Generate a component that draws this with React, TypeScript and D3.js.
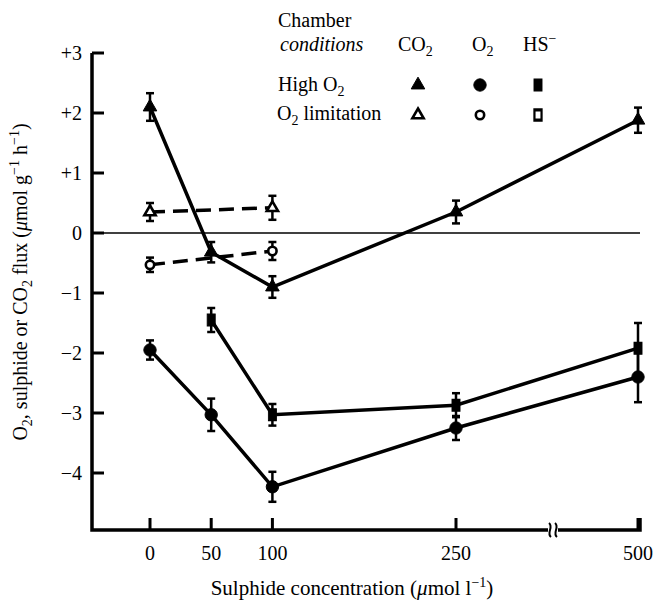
import React from 'react';
import * as d3 from 'd3';

const W = 655;
const H = 600;
const FONT = '"Liberation Serif", "Times New Roman", serif';

// x values (sulphide, umol/l)
const sulphide = [0, 50, 100, 250, 500];
const hsSulphide = [50, 100, 250, 500];
const limitSulphide = [0, 100];

// high O2 chamber
const co2HighVals = [2.1, -0.32, -0.9, 0.35, 1.88];
const co2HighErr = [0.23, 0.17, 0.18, 0.19, 0.21];
const o2HighVals = [-1.95, -3.03, -4.23, -3.25, -2.4];
const o2HighErr = [0.16, 0.27, 0.25, 0.2, 0.42];
const hsHighVals = [-1.45, -3.03, -2.87, -1.92];
const hsHighErr = [0.2, 0.18, 0.2, 0.42];

// O2 limitation chamber
const co2LimitVals = [0.35, 0.42];
const co2LimitErr = [0.15, 0.2];
const o2LimitVals = [-0.53, -0.3];
const o2LimitErr = [0.12, 0.15];

const xTicks = [0, 50, 100, 250, 500];
const yTicks = [3, 2, 1, 0, -1, -2, -3, -4];
const yTickLabels = ['+3', '+2', '+1', '0', '\u22121', '\u22122', '\u22123', '\u22124'];

const x = d3.scaleLinear().domain([0, 250, 500]).range([150, 456, 638]);
const y = d3.scaleLinear().domain([-4.95, 3]).range([530, 53]);

const axisX = 92;
const axisRight = 640;
const xBreak = 553;

const series = [
  { xs: sulphide, vals: co2HighVals, err: co2HighErr, shape: 'triangle', open: false, dashed: false },
  { xs: sulphide, vals: o2HighVals, err: o2HighErr, shape: 'circle', open: false, dashed: false },
  { xs: hsSulphide, vals: hsHighVals, err: hsHighErr, shape: 'square', open: false, dashed: false },
  { xs: limitSulphide, vals: co2LimitVals, err: co2LimitErr, shape: 'triangle', open: true, dashed: true },
  { xs: limitSulphide, vals: o2LimitVals, err: o2LimitErr, shape: 'circle', open: true, dashed: true },
];

const line = d3.line<[number, number]>().x(d => x(d[0])).y(d => y(d[1]));

function Marker({ cx, cy, shape, open }: { cx: number; cy: number; shape: string; open: boolean }) {
  if (shape === 'square') {
    const p = d3.symbol().type(d3.symbolSquare).size(open ? 70 : 90)();
    return (
      <path d={p || ''} transform={`translate(${cx},${cy}) scale(0.85,1.25)`}
        fill={open ? '#fff' : '#000'} stroke="#000" strokeWidth={open ? 2.6 : 1} />
    );
  }
  const type = shape === 'triangle' ? d3.symbolTriangle : d3.symbolCircle;
  const size = shape === 'triangle' ? (open ? 55 : 80) : (open ? 55 : 120);
  const p = d3.symbol().type(type).size(size)();
  return (
    <path d={p || ''} transform={`translate(${cx},${cy})`}
      fill={open ? '#fff' : '#000'} stroke="#000" strokeWidth={open ? 2.6 : 1} />
  );
}

export default function App() {
  const yBottom = y(-4.95);
  const yTop = y(3);
  return (
    <svg width={W} height={H} style={{ position: 'absolute', left: 0, top: 0, background: '#fff' }}
      fontFamily={FONT}>
      {/* axes */}
      <path d={`M${axisX},${yTop} V${yBottom} H${axisRight} V${yBottom - 12}`}
        fill="none" stroke="#000" strokeWidth={3.5} />
      {yTicks.map((t, i) => (
        <g key={t}>
          <line x1={axisX} x2={axisX + 12} y1={y(t)} y2={y(t)} stroke="#000" strokeWidth={3} />
          <text x={82} y={y(t)} dy="0.35em" textAnchor="end" fontSize={20}>{yTickLabels[i]}</text>
        </g>
      ))}
      {xTicks.map(t => (
        <g key={t}>
          <line x1={x(t)} x2={x(t)} y1={yBottom} y2={yBottom - 12} stroke="#000" strokeWidth={3} />
          <text x={x(t)} y={553} dy="0.35em" textAnchor="middle" fontSize={20}>{t}</text>
        </g>
      ))}
      {/* axis break */}
      <rect x={xBreak - 5} y={yBottom - 4} width={10} height={8} fill="#fff" />
      {[-3, 3].map(o => (
        <path key={o}
          d={`M${xBreak + o - 1},${yBottom - 7} C${xBreak + o + 4},${yBottom - 3} ${xBreak + o - 4},${yBottom + 3} ${xBreak + o + 1},${yBottom + 7}`}
          fill="none" stroke="#000" strokeWidth={2} />
      ))}

      {/* zero line */}
      <line x1={axisX} x2={axisRight} y1={y(0)} y2={y(0)} stroke="#000" strokeWidth={1.6} />

      {/* series lines */}
      {series.map((s, i) => (
        <path key={'l' + i} d={line(s.xs.map((v, j) => [v, s.vals[j]] as [number, number])) || ''}
          fill="none" stroke="#000" strokeWidth={3.5}
          strokeDasharray={s.dashed ? '15 8' : undefined} />
      ))}
      {/* error bars */}
      {series.map((s, i) => s.xs.map((v, j) => {
        const cx = x(v);
        const y1 = y(s.vals[j] + s.err[j]);
        const y2 = y(s.vals[j] - s.err[j]);
        return (
          <g key={`e${i}-${j}`} stroke="#000">
            <line x1={cx} x2={cx} y1={y1} y2={y2} strokeWidth={2.5} />
            <line x1={cx - 4} x2={cx + 4} y1={y1} y2={y1} strokeWidth={2.5} />
            <line x1={cx - 4} x2={cx + 4} y1={y2} y2={y2} strokeWidth={2.5} />
          </g>
        );
      }))}
      {/* markers */}
      {series.map((s, i) => s.xs.map((v, j) => (
        <Marker key={`m${i}-${j}`} cx={x(v)} cy={y(s.vals[j])} shape={s.shape} open={s.open} />
      )))}

      {/* legend */}
      <g fontSize={20}>
        <text x={278} y={27}>Chamber</text>
        <text x={280} y={51} fontStyle="italic">conditions</text>
        <text x={398} y={51}>CO<tspan dy={5} fontSize={14}>2</tspan></text>
        <text x={472} y={51}>O<tspan dy={5} fontSize={14}>2</tspan></text>
        <text x={523} y={51}>HS<tspan dy={-8} fontSize={14}>{'\u2212'}</tspan></text>
        <text x={278} y={91}>High O<tspan dy={5} fontSize={14}>2</tspan></text>
        <text x={277} y={120}>O<tspan dy={5} fontSize={14}>2</tspan><tspan dy={-5}> limitation</tspan></text>
      </g>
      {['triangle', 'circle', 'square'].map((sh, i) => (
        <g key={sh}>
          <Marker cx={[418, 480, 538][i]} cy={85} shape={sh} open={false} />
          <Marker cx={[418, 480, 538][i]} cy={115} shape={sh} open={true} />
        </g>
      ))}

      {/* axis titles */}
      <text x={352} y={588} dy="0.35em" textAnchor="middle" fontSize={21}>
        Sulphide concentration (<tspan fontStyle="italic">{'\u03bc'}</tspan>mol l<tspan dy={-8} fontSize={14}>{'\u22121'}</tspan><tspan dy={8}>)</tspan>
      </text>
      <text transform={`translate(27,282) rotate(-90)`} textAnchor="middle" fontSize={20}>
        O<tspan dy={5} fontSize={14}>2</tspan><tspan dy={-5}>, sulphide or CO</tspan><tspan dy={5} fontSize={14}>2</tspan><tspan dy={-5}> flux (</tspan><tspan fontStyle="italic">{'\u03bc'}</tspan>mol g<tspan dy={-8} fontSize={14}>{'\u22121'}</tspan><tspan dy={8}> h</tspan><tspan dy={-8} fontSize={14}>{'\u22121'}</tspan><tspan dy={8}>)</tspan>
      </text>
    </svg>
  );
}
